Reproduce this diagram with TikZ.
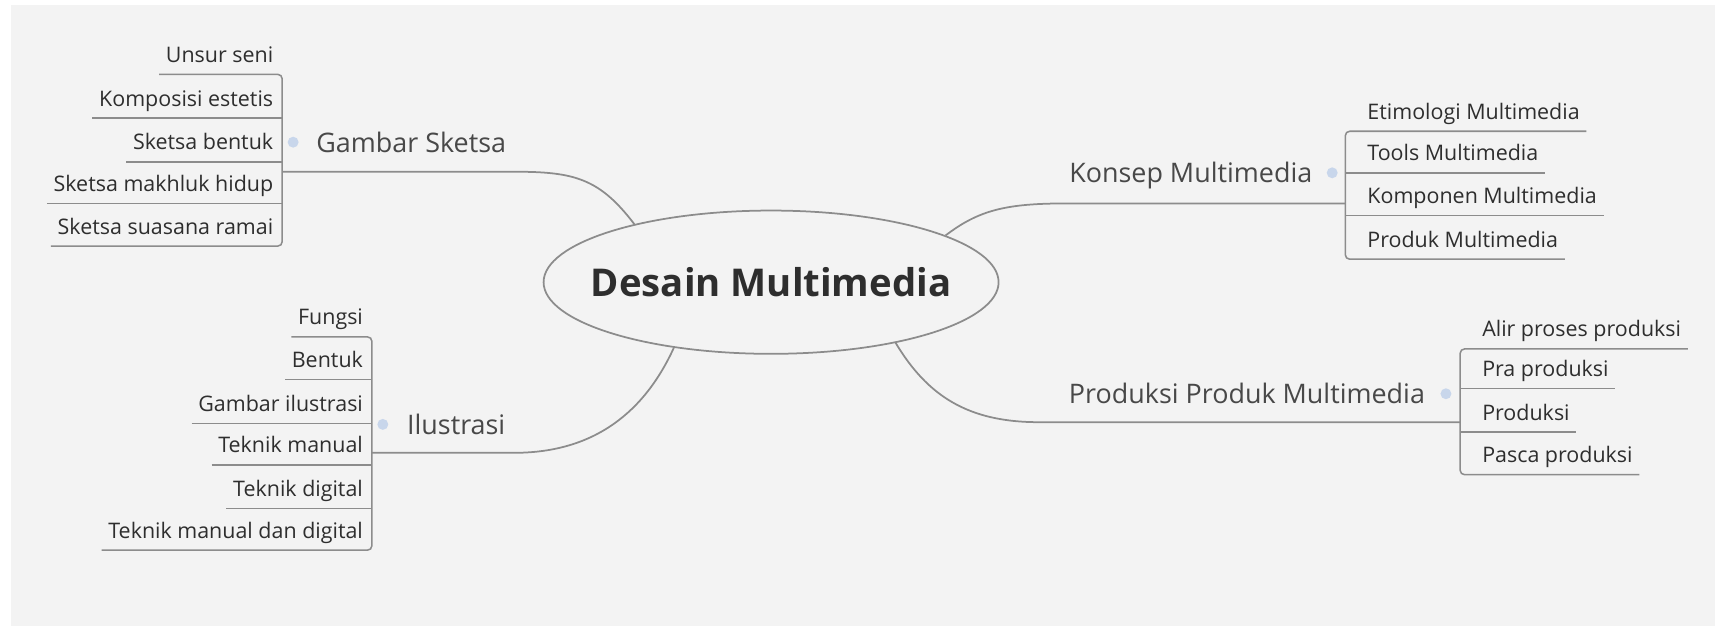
\documentclass[tikz,border=0pt]{standalone}
\usepackage{fontspec}
\setmainfont{Open Sans}
\usetikzlibrary{shapes.geometric}
\definecolor{bg}{HTML}{F3F3F3}
\definecolor{ln}{HTML}{8C8C8C}
\definecolor{tx}{HTML}{2E2E2E}
\definecolor{tx2}{HTML}{484848}
\definecolor{dotc}{HTML}{C8D6EB}
\begin{document}
\begin{tikzpicture}[x=1pt,y=-1pt,
  leaf/.style={inner sep=0pt, font=\fontsize{19.6}{22}\selectfont, text=tx},
  branch/.style={inner sep=0pt, font=\fontsize{24.6}{28}\selectfont, text=tx2},
  uline/.style={draw=ln, line width=1.4pt},
  conn/.style={draw=ln, line width=1.6pt},
  brk/.style={draw=ln, line width=1.4pt, rounded corners=4pt},
  knob/.style={circle, fill=dotc, inner sep=0pt, minimum size=10pt},
]
\useasboundingbox (0,0) rectangle (1568,572.3);
\fill[white] (0,0) rectangle (1568,572.3);
\fill[bg] (10,5) rectangle (1568,572.3);

% centre
\node[ellipse, draw=ln, line width=1.6pt, minimum width=416pt, minimum height=131pt,
      inner sep=0pt, font=\fontsize{35}{40}\selectfont\bfseries, text=tx] (c) at (705,258)
      {\makebox[0pt]{Desain Multimedia}};

% ---------- Gambar Sketsa ----------
\node[branch, anchor=base west] (gs) at (289,139) {Gambar Sketsa};
\node[knob] (gsk) at (268,130) {};
\node[leaf, anchor=base east] (g1) at (250,57) {Unsur seni};
\node[leaf, anchor=base east] (g2) at (250,97) {Komposisi estetis};
\node[leaf, anchor=base east] (g3) at (250,137) {Sketsa bentuk};
\node[leaf, anchor=base east] (g4) at (250,175) {Sketsa makhluk hidup};
\node[leaf, anchor=base east] (g5) at (250,214) {Sketsa suasana ramai};
\draw[brk] ([shift={(-6,11)}]g1.base west) -- ([shift={(8,11)}]g1.base east)
  -- ([shift={(8,11)}]g5.base east) -- ([shift={(-6,11)}]g5.base west);
\foreach \n in {g2,g3,g4}
  \draw[uline] ([shift={(-6,11)}]\n.base west) -- ([shift={(8,11)}]\n.base east);
\coordinate (gsj) at (258,157);
\draw[conn] (c.157) .. controls (548,163) and (525,157) .. (470,157) -- (gsj);

% ---------- Ilustrasi ----------
\node[branch, anchor=base west] (il) at (372,397) {Ilustrasi};
\node[knob] (ilk) at (350,388) {};
\node[leaf, anchor=base east] (i1) at (332,297) {Fungsi};
\node[leaf, anchor=base east] (i2) at (332,336) {Bentuk};
\node[leaf, anchor=base east] (i3) at (332,376) {Gambar ilustrasi};
\node[leaf, anchor=base east] (i4) at (332,414) {Teknik manual};
\node[leaf, anchor=base east] (i5) at (332,454) {Teknik digital};
\node[leaf, anchor=base east] (i6) at (332,492) {Teknik manual dan digital};
\draw[brk] ([shift={(-6,11)}]i1.base west) -- ([shift={(8,11)}]i1.base east)
  -- ([shift={(8,11)}]i6.base east) -- ([shift={(-6,11)}]i6.base west);
\foreach \n in {i2,i3,i4,i5}
  \draw[uline] ([shift={(-6,11)}]\n.base west) -- ([shift={(8,11)}]\n.base east);
\coordinate (ilj) at (340,414);
\draw[conn] (c.214) .. controls (590,375) and (545,414) .. (470,414) -- (ilj);

% ---------- Konsep Multimedia ----------
\node[branch, anchor=base east] (km) at (1200,167) {Konsep Multimedia};
\node[knob] (kmk) at (1218,158) {};
\node[leaf, anchor=base west] (k1) at (1250,109) {Etimologi Multimedia};
\node[leaf, anchor=base west] (k2) at (1250,147) {Tools Multimedia};
\node[leaf, anchor=base west] (k3) at (1250,186) {Komponen Multimedia};
\node[leaf, anchor=base west] (k4) at (1250,226) {Produk Multimedia};
\draw[brk] ([shift={(6,11)}]k1.base east) -- ([shift={(-20,11)}]k1.base west)
  -- ([shift={(-20,11)}]k4.base west) -- ([shift={(6,11)}]k4.base east);
\foreach \n in {k2,k3}
  \draw[uline] ([shift={(-20,11)}]\n.base west) -- ([shift={(6,11)}]\n.base east);
\coordinate (kmj) at (1230,186);
\draw[conn] (c.15) .. controls (895,192) and (920,186) .. (975,186) -- (kmj);

% ---------- Produksi Produk Multimedia ----------
\node[branch, anchor=base east] (pp) at (1303,369) {Produksi Produk Multimedia};
\node[knob] (ppk) at (1322,360) {};
\node[leaf, anchor=base west] (p1) at (1355,308) {Alir proses produksi};
\node[leaf, anchor=base west] (p2) at (1355,344) {Pra produksi};
\node[leaf, anchor=base west] (p3) at (1355,384) {Produksi};
\node[leaf, anchor=base west] (p4) at (1355,423) {Pasca produksi};
\draw[brk] ([shift={(6,11)}]p1.base east) -- ([shift={(-20,11)}]p1.base west)
  -- ([shift={(-20,11)}]p4.base west) -- ([shift={(6,11)}]p4.base east);
\foreach \n in {p2,p3}
  \draw[uline] ([shift={(-20,11)}]\n.base west) -- ([shift={(6,11)}]\n.base east);
\coordinate (ppj) at (1335,386);
\draw[conn] (c.334) .. controls (848,362) and (885,386) .. (950,386) -- (ppj);
\end{tikzpicture}
\end{document}
